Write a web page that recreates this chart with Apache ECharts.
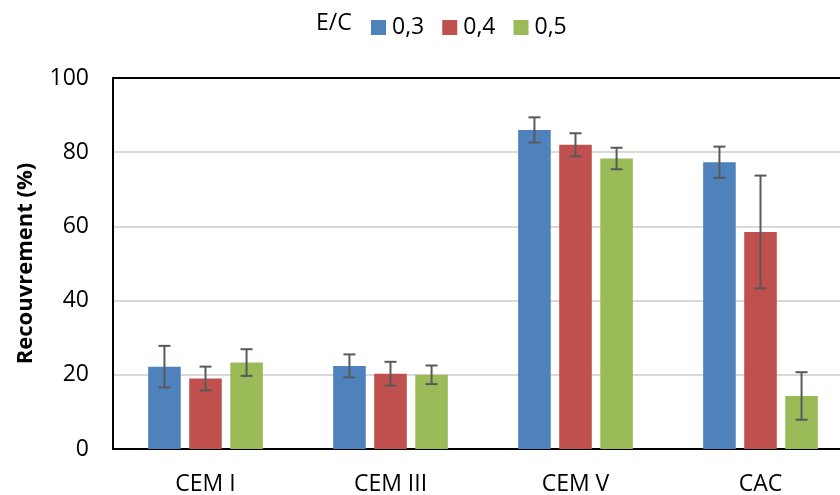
<!DOCTYPE html>
<html>
<head>
<meta charset="utf-8">
<script src="https://cdn.jsdelivr.net/npm/echarts@6/dist/echarts.min.js"></script>
<style>html,body{margin:0;padding:0;background:#fff}#c{width:840px;height:495px}</style>
</head>
<body>
<div id="c"></div>
<script>
const categories = ['CEM I', 'CEM III', 'CEM V', 'CAC'];
const seriesNames = ['0,3', '0,4', '0,5'];
const values03 = [22.2, 22.4, 86.0, 77.3];
const values04 = [19.0, 20.3, 82.0, 58.5];
const values05 = [23.3, 20.0, 78.3, 14.3];
const errors03 = [5.6, 3.1, 3.4, 4.2];
const errors04 = [3.2, 3.2, 3.1, 15.2];
const errors05 = [3.6, 2.5, 2.9, 6.4];
const yTicks = [0, 20, 40, 60, 80, 100];

const colors = ['#4f81bd', '#c0504d', '#9bbb59'];
const FONT = 'Open Sans';
const values = [values03, values04, values05];
const errors = [errors03, errors04, errors05];
const CAT_GAP = 0.38, BAR_GAP = 0.26;

const chart = echarts.init(document.getElementById('c'));
const series = [];
values.forEach((v, i) => {
  series.push({
    name: seriesNames[i], type: 'bar', data: v,
    barCategoryGap: (CAT_GAP * 100) + '%', barGap: (BAR_GAP * 100) + '%',
    itemStyle: { color: colors[i] }
  });
});
values.forEach((v, i) => {
  series.push({
    type: 'custom', z: 10, silent: true,
    data: v.map((val, k) => [k, val - errors[i][k], val + errors[i][k]]),
    renderItem: function (params, api) {
      const band = api.size([1, 0])[0];
      const n = values.length;
      const bw = band * (1 - CAT_GAP) / (n + (n - 1) * BAR_GAP);
      const total = n * bw + (n - 1) * bw * BAR_GAP;
      const off = -total / 2 + i * bw * (1 + BAR_GAP) + bw / 2;
      const lo = api.coord([api.value(0), api.value(1)]);
      const hi = api.coord([api.value(0), api.value(2)]);
      const x = lo[0] + off;
      const cap = 6;
      const st = { stroke: '#595959', lineWidth: 2 };
      return { type: 'group', children: [
        { type: 'line', shape: { x1: x, y1: lo[1], x2: x, y2: hi[1] }, style: st },
        { type: 'line', shape: { x1: x - cap, y1: lo[1], x2: x + cap, y2: lo[1] }, style: st },
        { type: 'line', shape: { x1: x - cap, y1: hi[1], x2: x + cap, y2: hi[1] }, style: st }
      ]};
    }
  });
});

chart.setOption({
  animation: false,
  textStyle: { fontFamily: FONT },
  title: { text: 'E/C', left: 311, top: 7, textStyle: { fontFamily: FONT, fontSize: 23, fontWeight: 'normal', color: '#000' } },
  legend: {
    data: seriesNames, left: 366, top: 11, itemWidth: 15, itemHeight: 15, itemGap: 18,
    icon: 'rect', textStyle: { fontFamily: FONT, fontSize: 23, color: '#000', padding: [0, 0, 0, 1] }
  },
  grid: { left: 113, top: 78, width: 740, height: 371, outerBoundsMode: 'none' },
  xAxis: [{
    type: 'category', data: categories,
    axisLine: { lineStyle: { color: '#000', width: 2 } },
    axisTick: { show: false },
    axisLabel: { fontFamily: FONT, fontSize: 23, color: '#000', margin: 24 }
  }, {
    type: 'category', data: categories, position: 'top',
    axisLine: { show: true, lineStyle: { color: '#000', width: 2 } },
    axisTick: { show: false }, axisLabel: { show: false }
  }],
  yAxis: {
    type: 'value', min: yTicks[0], max: yTicks[yTicks.length - 1], interval: yTicks[1] - yTicks[0],
    name: 'Recouvrement (%)', nameLocation: 'middle', nameGap: 76,
    nameTextStyle: { fontFamily: FONT, fontSize: 22, fontWeight: 'bold', color: '#000' },
    axisLine: { show: true, lineStyle: { color: '#000', width: 2 } },
    axisTick: { show: false },
    axisLabel: { fontFamily: FONT, fontSize: 23, color: '#000', margin: 24 },
    splitLine: { lineStyle: { color: '#d9d9d9', width: 2 } }
  },
  series: series
});
</script>
</body>
</html>
